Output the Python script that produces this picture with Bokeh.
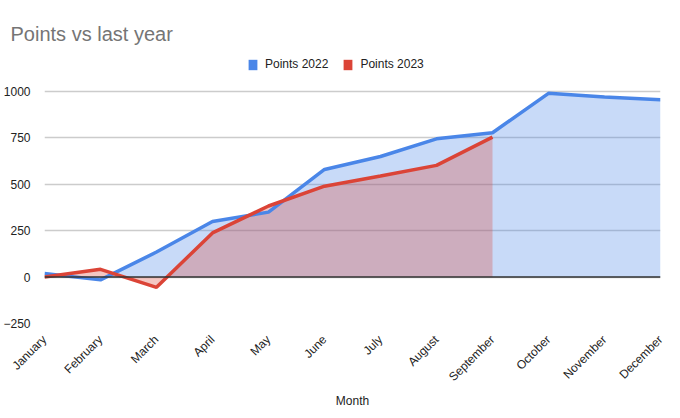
import math
from bokeh.plotting import figure
from bokeh.models import FixedTicker, Legend, LegendItem, Span, ColumnDataSource, Range1d
from bokeh.embed import file_html
from bokeh.resources import INLINE

months = ["January", "February", "March", "April", "May", "June", "July",
          "August", "September", "October", "November", "December"]
points_2022 = [20, -15, 135, 300, 350, 580, 650, 745, 778, 990, 970, 955]
points_2023 = [0, 42, -55, 238, 383, 490, 545, 602, 754]
y_ticks = [-250, 0, 250, 500, 750, 1000]

BLUE = "#4a86e8"
RED = "#db4437"
FONT = "Liberation Sans"

W, H = 680, 418
TOP, BOTTOM, LEFT, RIGHT = 50, 95, 40, 20
FRAME_H = H - TOP - BOTTOM
# pixel height that the tick span (-250..1000) occupies; the rest of the frame is head room for the legend
TICK_SPAN_PX = 232
y_top = y_ticks[0] + (y_ticks[-1] - y_ticks[0]) * FRAME_H / TICK_SPAN_PX

src22 = ColumnDataSource(dict(x=list(range(len(points_2022))), y=points_2022, z=[0] * len(points_2022)))
src23 = ColumnDataSource(dict(x=list(range(len(points_2023))), y=points_2023, z=[0] * len(points_2023)))

p = figure(width=W, height=H, output_backend="svg", toolbar_location=None,
           title="Points vs last year",
           x_range=Range1d(0, len(months) - 1), y_range=Range1d(y_ticks[0], y_top),
           min_border_left=LEFT, min_border_right=RIGHT, min_border_top=TOP, min_border_bottom=BOTTOM)
p.outline_line_color = None
p.background_fill_color = "white"
p.border_fill_color = "white"

p.title.text_font = FONT
p.title.text_font_size = "20px"
p.title.text_font_style = "normal"
p.title.text_color = "#757575"
p.title.align = "left"
p.title.offset = -34
p.title.standoff = 12

p.varea(x="x", y1="z", y2="y", source=src22, fill_color=BLUE, fill_alpha=0.3)
p.varea(x="x", y1="z", y2="y", source=src23, fill_color=RED, fill_alpha=0.3)
p.line(x="x", y="y", source=src22, line_color=BLUE, line_width=3.5)
p.line(x="x", y="y", source=src23, line_color=RED, line_width=3.5)

p.add_layout(Span(location=0, dimension="width", line_color="#333333", line_width=1.5))

# legend swatches (zero-size rects, only used for the legend)
sw22 = p.rect(x="x", y="y", width=0, height=0, source=src22, fill_color=BLUE, line_color=None)
sw23 = p.rect(x="x", y="y", width=0, height=0, source=src23, fill_color=RED, line_color=None)
legend = Legend(items=[LegendItem(label="Points 2022", renderers=[sw22]),
                       LegendItem(label="Points 2023", renderers=[sw23])],
                orientation="horizontal", location=(203, FRAME_H - 267 + 246),
                label_text_font=FONT, label_text_font_size="12px", label_text_color="#222222",
                glyph_width=11, glyph_height=13, label_height=13, label_standoff=7, spacing=14,
                border_line_color=None, background_fill_alpha=0, padding=0, margin=0)
p.add_layout(legend, "center")

p.xaxis.ticker = FixedTicker(ticks=list(range(len(months))))
p.xaxis.major_label_overrides = {i: m for i, m in enumerate(months)}
p.xaxis.major_label_orientation = math.pi / 4
p.xaxis.axis_line_color = None
p.xaxis.major_tick_line_color = None
p.xaxis.minor_tick_line_color = None
p.xaxis.major_label_text_font = FONT
p.xaxis.major_label_text_font_size = "12px"
p.xaxis.major_label_text_color = "#222222"
p.xaxis.major_label_standoff = 8
p.xaxis.axis_label = "Month"
p.xaxis.axis_label_text_font = FONT
p.xaxis.axis_label_text_font_size = "12px"
p.xaxis.axis_label_text_font_style = "normal"
p.xaxis.axis_label_text_color = "#222222"
p.xaxis.axis_label_standoff = 2

p.yaxis.ticker = FixedTicker(ticks=y_ticks)
p.yaxis.axis_line_color = None
p.yaxis.major_tick_line_color = None
p.yaxis.minor_tick_line_color = None
p.yaxis.major_label_text_font = FONT
p.yaxis.major_label_text_font_size = "12px"
p.yaxis.major_label_text_color = "#222222"
p.yaxis.major_label_standoff = 8

p.xgrid.grid_line_color = None
p.ygrid.grid_line_color = "#cccccc"
p.ygrid.grid_line_width = 1.5

open("out.html", "w").write(file_html(p, INLINE))
